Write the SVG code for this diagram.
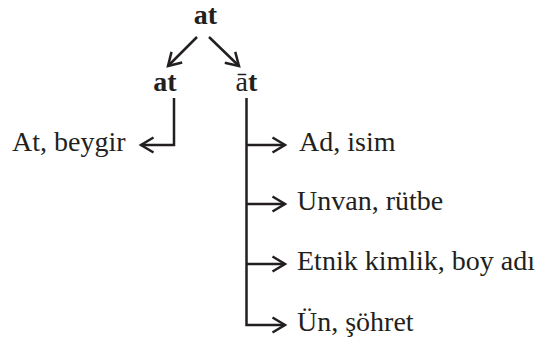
<svg xmlns="http://www.w3.org/2000/svg" width="547" height="342" viewBox="0 0 547 342">
<style>
.t{font-family:'Liberation Serif','Times New Roman','DejaVu Serif',serif;font-size:28px;fill:#231f20}
.b{font-weight:bold}
.c{fill:none;stroke:#231f20;stroke-width:2.5;stroke-linejoin:miter}
</style>
<defs>
<marker id="ah" markerUnits="userSpaceOnUse" viewBox="-16 -10 20 20" refX="0" refY="0" markerWidth="20" markerHeight="20" orient="auto">
<path d="M-12.5,-7.5 L0,0 L-12.5,7.5" fill="none" stroke="#231f20" stroke-width="2.5"/>
</marker>
</defs>
<rect width="547" height="342" fill="#fff"/>
<g id="connectors">
<path class="c" d="M197,37 L168,66" marker-end="url(#ah)"/>
<path class="c" d="M209,37 L239,66" marker-end="url(#ah)"/>
<path class="c" d="M174,98 V145 H141" marker-end="url(#ah)"/>
<path class="c" d="M246.5,98 V325 H285" marker-end="url(#ah)"/>
<path class="c" d="M246.5,145 H285" marker-end="url(#ah)"/>
<path class="c" d="M246.5,204 H285" marker-end="url(#ah)"/>
<path class="c" d="M246.5,264 H285" marker-end="url(#ah)"/>
</g>
<g class="t" font-family="Liberation Serif, serif">
<g id="n-at-root"><text class="b" x="205.5" y="24" text-anchor="middle">at</text></g>
<g id="n-at"><text class="b" x="165" y="91" text-anchor="middle">at</text></g>
<g id="n-aat"><text x="246.5" y="91" text-anchor="middle">ā<tspan class="b">t</tspan></text></g>
<g id="n-beygir"><text x="12" y="151">At, beygir</text></g>
<g id="n-ad"><text x="299" y="151">Ad, isim</text></g>
<g id="n-unvan"><text x="297" y="210">Unvan, rütbe</text></g>
<g id="n-etnik"><text x="297" y="270">Etnik kimlik, boy adı</text></g>
<g id="n-un"><text x="297" y="331">Ün, şöhret</text></g>
</g>
</svg>
